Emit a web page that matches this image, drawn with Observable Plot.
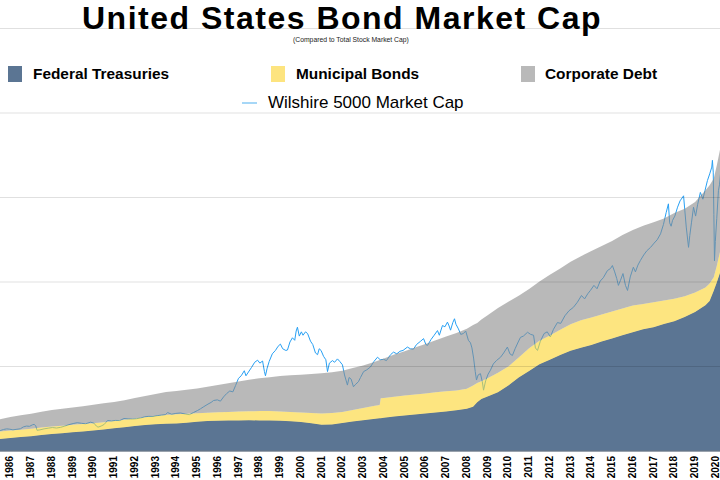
<!DOCTYPE html>
<html>
<head>
<meta charset="utf-8">
<script src="https://cdn.jsdelivr.net/npm/d3@7"></script>
<script src="https://cdn.jsdelivr.net/npm/@observablehq/plot@0.6"></script>
<style>
  body { margin: 0; background: #fff; font-family: "Liberation Sans", Arial, sans-serif; }
  #wrap { position: relative; width: 720px; height: 480px; overflow: hidden; }
  .ov { position: absolute; white-space: nowrap; color: #000; pointer-events: none; }
  .title { left: 82px; top: 0px; font-size: 32px; line-height: 36px; font-weight: bold; letter-spacing: 1.5px; }
  .subtitle { left: 293px; top: 36px; font-size: 6.8px; line-height: 7px; color: #222; }
  .key { font-size: 15.4px; line-height: 18px; font-weight: bold; }
  .swatch { position: absolute; width: 14px; height: 16px; }
  .lineKey { font-size: 17px; line-height: 20px; }
  .lineSwatch { position: absolute; width: 15px; height: 2px; }
</style>
</head>
<body>
<div id="wrap"></div>
<script>
// Outstanding market value, trillions of US dollars
const seriesNames = ["Federal Treasuries", "Municipal Bonds", "Corporate Debt"];
const seriesColors = ["#5b7593", "#fcd42b", "#8a8a8a"];
const swatchColors = ["#5b7593", "#fde47f", "#b9b9b9"];

const areaYears = [
  1986.0, 1986.5, 1987.0, 1987.5, 1988.0, 1988.5, 1989.0, 1989.5, 1990.0, 1990.5,
  1991.0, 1991.5, 1992.0, 1992.5, 1993.0, 1993.5, 1994.0, 1994.5, 1995.0, 1995.5,
  1996.0, 1996.5, 1997.0, 1997.5, 1998.0, 1998.5, 1999.0, 1999.5, 2000.0, 2000.5,
  2001.0, 2001.5, 2002.0, 2002.5, 2003.0, 2003.5, 2004.0, 2004.3, 2004.35, 2004.5,
  2005.0, 2005.5, 2006.0, 2006.5, 2007.0, 2007.5, 2008.0, 2008.5, 2008.8, 2009.0,
  2009.2, 2009.5, 2010.0, 2010.5, 2011.0, 2011.5, 2012.0, 2012.5, 2013.0, 2013.5,
  2014.0, 2014.5, 2015.0, 2015.5, 2016.0, 2016.5, 2017.0, 2017.5, 2018.0, 2018.5,
  2019.0, 2019.5, 2020.0, 2020.2, 2020.4, 2020.55, 2020.7
];
const treasuries = [
  1.36, 1.48, 1.59, 1.70, 1.82, 1.94, 2.05, 2.15, 2.25, 2.36,
  2.49, 2.62, 2.76, 2.89, 3.03, 3.12, 3.17, 3.20, 3.28, 3.40,
  3.50, 3.53, 3.56, 3.56, 3.57, 3.56, 3.55, 3.52, 3.45, 3.36,
  3.22, 3.06, 3.08, 3.26, 3.42, 3.57, 3.73, 3.81, 3.83, 3.87,
  4.01, 4.13, 4.25, 4.38, 4.50, 4.62, 4.75, 4.95, 5.18, 5.70,
  6.10, 6.40, 6.90, 7.70, 8.65, 9.40, 10.20, 10.75, 11.30, 11.80,
  12.15, 12.50, 12.90, 13.25, 13.65, 14.00, 14.35, 14.60, 14.98, 15.30,
  15.80, 16.40, 17.20, 17.70, 18.90, 19.90, 21.00
];
const municipal = [
  0.89, 0.88, 0.88, 0.88, 0.90, 0.90, 0.89, 0.89, 0.89, 0.87,
  0.85, 0.87, 0.88, 0.89, 0.90, 0.95, 1.03, 1.10, 1.08, 1.01,
  0.96, 0.99, 1.01, 1.06, 1.07, 1.10, 1.12, 1.10, 1.11, 1.14,
  1.22, 1.31, 1.37, 1.30, 1.38, 1.45, 1.53, 1.56, 2.35, 2.35,
  2.36, 2.37, 2.38, 2.37, 2.38, 2.38, 2.36, 2.35, 2.50, 2.30,
  2.10, 2.15, 2.30, 2.25, 2.35, 2.70, 2.80, 2.85, 3.00, 3.15,
  3.25, 3.25, 3.20, 3.20, 3.15, 3.15, 3.00, 2.95, 2.77, 2.65,
  2.45, 2.30, 2.10, 2.05, 1.60, 2.00, 2.50
];
const corporate = [
  1.44, 1.59, 1.70, 1.78, 1.86, 1.94, 1.99, 2.04, 2.10, 2.17,
  2.24, 2.26, 2.31, 2.44, 2.52, 2.63, 2.73, 2.74, 2.82, 2.94,
  3.07, 3.23, 3.38, 3.54, 3.74, 3.89, 4.01, 4.20, 4.34, 4.47,
  4.60, 4.76, 4.80, 4.87, 4.95, 5.03, 5.19, 5.35, 4.57, 4.68,
  4.98, 5.25, 5.57, 5.85, 6.17, 6.50, 6.79, 7.10, 7.17, 7.10,
  7.30, 7.45, 7.65, 7.65, 7.30, 7.00, 7.00, 7.20, 7.25, 7.40,
  7.60, 7.85, 8.10, 8.35, 8.70, 8.95, 9.25, 9.45, 9.70, 10.15,
  10.35, 10.70, 11.50, 11.65, 11.70, 11.90, 12.10
];

// Wilshire 5000 total market capitalisation
const wilshireYears = [
  1986.00, 1986.15, 1986.30, 1986.45, 1986.60, 1986.75, 1986.96, 1987.10, 1987.25, 1987.40,
  1987.54, 1987.62, 1987.70, 1987.76, 1987.90, 1988.10, 1988.30, 1988.50, 1988.70, 1988.90,
  1989.10, 1989.30, 1989.50, 1989.70, 1989.90, 1990.10, 1990.34, 1990.50, 1990.62, 1990.70,
  1990.85, 1991.00, 1991.16, 1991.35, 1991.55, 1991.75, 1991.95, 1992.15, 1992.35, 1992.55,
  1992.75, 1992.95, 1993.15, 1993.35, 1993.55, 1993.75, 1993.95, 1994.05, 1994.25, 1994.45,
  1994.67, 1994.90, 1995.10, 1995.30, 1995.50, 1995.64, 1995.80, 1996.00, 1996.15, 1996.27,
  1996.45, 1996.60, 1996.75, 1996.90, 1997.05, 1997.20, 1997.33, 1997.47, 1997.60, 1997.75,
  1997.83, 1997.95, 1998.10, 1998.25, 1998.39, 1998.50, 1998.63, 1998.72, 1998.77, 1998.85,
  1998.95, 1999.10, 1999.25, 1999.38, 1999.49, 1999.60, 1999.75, 1999.83, 1999.95, 2000.07,
  2000.18, 2000.25, 2000.31, 2000.40, 2000.50, 2000.58, 2000.70, 2000.80, 2000.94, 2001.05,
  2001.18, 2001.28, 2001.36, 2001.45, 2001.57, 2001.68, 2001.76, 2001.85, 2002.00, 2002.10,
  2002.24, 2002.35, 2002.48, 2002.58, 2002.65, 2002.72, 2002.80, 2002.90, 2003.01, 2003.12,
  2003.25, 2003.35, 2003.50, 2003.65, 2003.83, 2004.00, 2004.17, 2004.30, 2004.46, 2004.60,
  2004.80, 2004.94, 2005.10, 2005.25, 2005.40, 2005.61, 2005.75, 2005.90, 2006.05, 2006.25,
  2006.39, 2006.50, 2006.58, 2006.75, 2006.90, 2007.06, 2007.15, 2007.30, 2007.42, 2007.54,
  2007.62, 2007.69, 2007.80, 2007.88, 2007.95, 2008.07, 2008.18, 2008.31, 2008.42, 2008.55,
  2008.65, 2008.72, 2008.80, 2008.88, 2008.94, 2009.02, 2009.13, 2009.22, 2009.28, 2009.38,
  2009.50, 2009.61, 2009.75, 2009.90, 2010.10, 2010.25, 2010.43, 2010.55, 2010.67, 2010.80,
  2010.95, 2011.06, 2011.20, 2011.40, 2011.55, 2011.69, 2011.78, 2011.88, 2012.02, 2012.20,
  2012.35, 2012.50, 2012.65, 2012.84, 2013.00, 2013.20, 2013.40, 2013.61, 2013.80, 2014.00,
  2014.15, 2014.30, 2014.43, 2014.60, 2014.75, 2014.90, 2015.05, 2015.25, 2015.40, 2015.49,
  2015.60, 2015.70, 2015.78, 2015.88, 2016.00, 2016.12, 2016.22, 2016.35, 2016.50, 2016.60,
  2016.72, 2016.84, 2017.00, 2017.15, 2017.33, 2017.50, 2017.65, 2017.81, 2017.95, 2018.08,
  2018.19, 2018.25, 2018.32, 2018.39, 2018.50, 2018.63, 2018.75, 2018.92, 2018.98, 2019.05,
  2019.16, 2019.22, 2019.30, 2019.40, 2019.50, 2019.60, 2019.73, 2019.85, 2019.95, 2020.07,
  2020.18, 2020.28, 2020.31, 2020.35, 2020.38, 2020.41, 2020.45, 2020.52, 2020.60, 2020.65,
  2020.70
];
const wilshireCap = [
  2.43, 2.55, 2.62, 2.58, 2.50, 2.56, 2.63, 2.85, 2.95, 2.92,
  3.10, 3.15, 2.98, 2.45, 2.50, 2.62, 2.70, 2.78, 2.72, 2.80,
  2.95, 3.12, 3.25, 3.35, 3.28, 3.22, 3.41, 3.30, 2.95, 2.82,
  2.95, 3.15, 3.61, 3.55, 3.62, 3.60, 3.85, 3.80, 3.78, 3.82,
  3.90, 4.05, 4.10, 4.08, 4.18, 4.25, 4.30, 4.55, 4.35, 4.45,
  4.50, 4.38, 4.30, 4.55, 4.80, 5.00, 5.25, 5.55, 5.75, 5.98,
  6.05, 5.90, 6.40, 6.80, 7.10, 7.00, 7.75, 8.60, 8.90, 9.50,
  8.90, 9.35, 9.90, 10.50, 10.75, 10.40, 10.65, 9.40, 8.90, 9.80,
  10.60, 11.50, 11.90, 12.40, 12.65, 12.10, 11.90, 11.95, 12.90, 13.40,
  13.10, 14.20, 14.65, 13.60, 14.10, 13.70, 14.10, 13.90, 13.00, 12.60,
  11.60, 11.40, 12.10, 11.90, 11.20, 10.80, 9.40, 10.40, 10.70, 10.50,
  10.90, 10.60, 10.20, 9.00, 8.40, 7.80, 8.70, 8.50, 7.60, 7.90,
  8.20, 8.70, 9.40, 9.60, 9.95, 10.60, 11.10, 10.80, 10.85, 10.70,
  11.40, 11.70, 11.50, 11.80, 11.90, 12.30, 12.10, 12.05, 12.60, 13.00,
  13.30, 12.60, 12.50, 13.20, 13.70, 14.25, 13.70, 14.85, 14.70, 15.25,
  14.80, 14.30, 15.20, 15.65, 15.00, 14.45, 13.80, 13.90, 14.20, 13.10,
  12.80, 12.20, 11.00, 9.40, 8.40, 9.00, 9.15, 8.20, 7.20, 8.30,
  9.10, 9.55, 10.30, 10.70, 11.10, 11.60, 12.30, 11.50, 11.30, 12.10,
  12.90, 13.45, 13.60, 14.05, 13.80, 13.70, 12.20, 11.90, 13.00, 13.90,
  14.10, 13.50, 14.40, 15.20, 15.10, 16.00, 16.60, 17.00, 17.60, 18.40,
  18.00, 18.60, 19.00, 19.60, 19.20, 20.10, 20.50, 21.35, 21.60, 21.95,
  21.20, 20.40, 19.60, 20.20, 21.00, 19.60, 19.00, 20.60, 21.75, 21.20,
  22.00, 22.55, 23.20, 23.70, 24.10, 24.60, 25.00, 25.70, 26.80, 28.20,
  29.25, 27.00, 26.60, 27.30, 27.80, 28.85, 29.60, 30.20, 28.50, 26.50,
  24.10, 25.50, 27.00, 28.85, 27.80, 29.20, 30.60, 29.80, 30.80, 32.00,
  32.80, 33.60, 34.40, 33.00, 28.00, 22.50, 24.80, 27.50, 30.80, 31.50,
  32.80
];

const tickYears = d3.range(1986, 2021);
const gridValues = [10, 20, 30, 40, 50];

// Long-form table for the stacked areas
const seriesValues = [treasuries, municipal, corporate];
const bondRows = areaYears.flatMap((year, i) =>
  seriesNames.map((series, k) => ({year, series, value: seriesValues[k][i]}))
);
const treasuryRows = areaYears.map((year, i) => ({year, value: treasuries[i]}));
const wilshireRows = wilshireYears.map((year, i) => ({year, value: wilshireCap[i]}));

// Year labels sit in the middle of each year's band
const labelOffset = 0.47;

const chart = Plot.plot({
  width: 720,
  height: 480,
  marginTop: 28,
  marginBottom: 29.5,
  marginLeft: 0,
  marginRight: 0,
  style: {fontFamily: "'Liberation Sans', Arial, sans-serif", background: "#fff", color: "#000"},
  x: {domain: [1986, 2020.7], axis: null},
  y: {domain: [0, 50], axis: null},
  color: {domain: seriesNames, range: seriesColors},
  marks: [
    // stock market line sits underneath the translucent bond areas
    Plot.lineY(wilshireRows, {x: "year", y: "value", stroke: "#27a0f4", strokeWidth: 1}),
    Plot.areaY(treasuryRows, {x: "year", y: "value", fill: seriesColors[0]}),
    Plot.areaY(bondRows, Plot.stackY({
      x: "year", y: "value", fill: "series", order: seriesNames, fillOpacity: 0.6
    })),
    Plot.gridY(gridValues, {stroke: "#000", strokeOpacity: 0.12}),
    Plot.ruleY([0], {stroke: "#34465c", strokeWidth: 1.2}),
    Plot.axisX(tickYears.map(y => y + labelOffset), {
      tickFormat: d => String(Math.floor(d)),
      tickRotate: -90,
      tickSize: 0,
      tickPadding: 5,
      fontSize: 10,
      fontWeight: "bold",
      label: null
    })
  ]
});

const wrap = document.getElementById("wrap");
wrap.appendChild(chart);

function addDiv(cls, text, styles) {
  const el = document.createElement("div");
  el.className = "ov " + cls;
  if (text) el.textContent = text;
  Object.assign(el.style, styles || {});
  wrap.appendChild(el);
  return el;
}

addDiv("title", "United States Bond Market Cap");
addDiv("subtitle", "(Compared to Total Stock Market Cap)");

// Legend for the three bond categories
const keyLayout = [
  {swatchLeft: 8, textLeft: 33},
  {swatchLeft: 271, textLeft: 296},
  {swatchLeft: 521, textLeft: 545}
];
seriesNames.forEach((name, i) => {
  addDiv("swatch", "", {left: keyLayout[i].swatchLeft + "px", top: "66px", background: swatchColors[i]});
  addDiv("key", name, {left: keyLayout[i].textLeft + "px", top: "65px"});
});

// Legend for the stock market line
addDiv("lineSwatch", "", {left: "242px", top: "102px", background: "#a6d7f7"});
addDiv("lineKey", "Wilshire 5000 Market Cap", {left: "268px", top: "93px"});
</script>
</body>
</html>
